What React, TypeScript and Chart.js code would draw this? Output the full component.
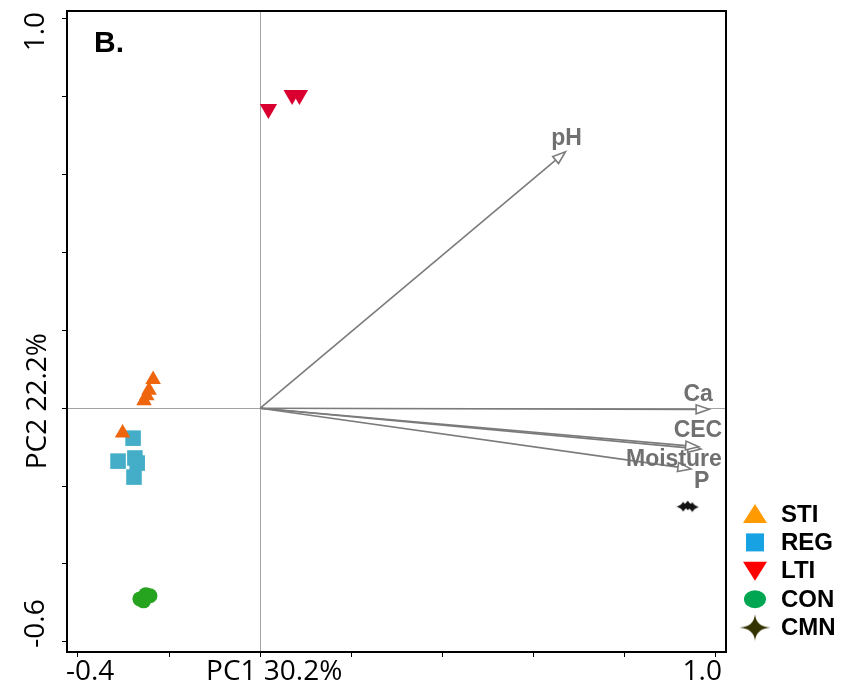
import React, { useEffect, useRef } from "react";
import { Chart, registerables } from "chart.js";
Chart.register(...registerables);

// ---- data ----
const groupNames = ["STI", "REG", "LTI", "CON", "CMN"];
const stiX = [-0.235, -0.244, -0.249, -0.255, -0.302];
const stiY = [0.074, 0.046, 0.032, 0.019, -0.064];
const regX = [-0.279, -0.312, -0.275, -0.270, -0.277];
const regY = [-0.077, -0.136, -0.128, -0.141, -0.177];
const ltiX = [0.018, 0.070, 0.086];
const ltiY = [0.769, 0.805, 0.805];
const conX = [-0.264, -0.251, -0.242, -0.256];
const conY = [-0.490, -0.479, -0.482, -0.495];
const cmnX = [0.928, 0.938, 0.948];
const cmnY = [-0.253, -0.250, -0.254];

const loadingNames = ["pH", "Ca", "CEC", "P", "Moisture"];
const loadingX = [0.670, 0.985, 0.967, 0.962, 0.945];
const loadingY = [0.659, -0.003, -0.105, -0.099, -0.156];

const xTicks = [-0.4, -0.2, 0, 0.2, 0.4, 0.6, 0.8, 1.0];
const xTickLabels = ["-0.4", "", "", "", "", "", "", "1.0"];
const yTicks = [-0.6, -0.4, -0.2, 0, 0.2, 0.4, 0.6, 0.8, 1.0];
const yTickLabels = ["-0.6", "", "", "", "", "", "", "", "1.0"];
const xTitle = "PC1 30.2%";
const yTitle = "PC2 22.2%";
const panelLabel = "B.";

// ---- styles ----
const pointColors = ["#ee650e", "#44adc7", "#d90030", "#26a31f", "#141414"];
const legendColors = ["#ff9a00", "#17a3e3", "#ff0000", "#00a651", "#333300"];
const arrowColor = "#7b7b7b";
const labelColor = "#707070";
// pixel offsets of loading labels relative to arrow tips
const labelOffsets: [number, number][] = [[1, -13], [-11, -15], [-3, -18], [3, 35], [-17, -9]];

function makeStar(w: number, h: number, color: string, k: number) {
  const c = document.createElement("canvas");
  c.width = w;
  c.height = h;
  const g = c.getContext("2d")!;
  const cx = w / 2, cy = h / 2;
  const rx = w / 2 - 0.5, ry = h / 2 - 0.5;
  g.fillStyle = color;
  g.beginPath();
  g.moveTo(cx, cy - ry);
  g.quadraticCurveTo(cx + k, cy - k, cx + rx, cy);
  g.quadraticCurveTo(cx + k, cy + k, cx, cy + ry);
  g.quadraticCurveTo(cx - k, cy + k, cx - rx, cy);
  g.quadraticCurveTo(cx - k, cy - k, cx, cy - ry);
  g.closePath();
  g.fill();
  return c;
}

function pts(xs: number[], ys: number[]) {
  return xs.map((x, i) => ({ x, y: ys[i] }));
}

export default function App() {
  const ref = useRef<HTMLCanvasElement>(null);
  useEffect(() => {
    const smallStar = makeStar(14, 11, pointColors[4], 1.6);
    const bigStar = makeStar(32, 28, legendColors[4], 1.0);

    const overlay = {
      id: "overlay",
      beforeDatasetsDraw(chart: any) {
        const ctx = chart.ctx;
        const xs = chart.scales.x, ys = chart.scales.y;
        const x0 = xs.getPixelForValue(0), y0 = ys.getPixelForValue(0);
        ctx.save();
        loadingNames.forEach((name, i) => {
          const tx = xs.getPixelForValue(loadingX[i]);
          const ty = ys.getPixelForValue(loadingY[i]);
          const ang = Math.atan2(ty - y0, tx - x0);
          const hl = 13, hw = 4.5;
          const bx = tx - hl * Math.cos(ang), by = ty - hl * Math.sin(ang);
          ctx.strokeStyle = arrowColor;
          ctx.lineWidth = 1.6;
          ctx.beginPath();
          ctx.moveTo(x0, y0);
          ctx.lineTo(bx, by);
          ctx.stroke();
          ctx.beginPath();
          ctx.moveTo(tx, ty);
          ctx.lineTo(bx - hw * Math.sin(ang), by + hw * Math.cos(ang));
          ctx.lineTo(bx + hw * Math.sin(ang), by - hw * Math.cos(ang));
          ctx.closePath();
          ctx.fillStyle = "#ffffff";
          ctx.fill();
          ctx.stroke();
        });
        ctx.font = "bold 23px 'Liberation Sans', Arial, sans-serif";
        ctx.fillStyle = labelColor;
        ctx.textAlign = "center";
        ctx.textBaseline = "middle";
        loadingNames.forEach((name, i) => {
          const tx = xs.getPixelForValue(loadingX[i]);
          const ty = ys.getPixelForValue(loadingY[i]);
          ctx.fillText(name, tx + labelOffsets[i][0], ty + labelOffsets[i][1]);
        });
        ctx.restore();
      },
      afterDraw(chart: any) {
        const ctx = chart.ctx;
        const a = chart.chartArea;
        const xs = chart.scales.x, ys = chart.scales.y;
        ctx.save();
        ctx.strokeStyle = "#000";
        ctx.lineWidth = 2;
        ctx.strokeRect(a.left, a.top, a.right - a.left, a.bottom - a.top);
        ctx.fillStyle = "#000";
        ctx.font = "bold 30px 'Liberation Sans', Arial, sans-serif";
        ctx.textAlign = "left";
        ctx.textBaseline = "middle";
        ctx.fillText(panelLabel, a.left + 27, a.top + 33);
        ctx.font = "28px 'Open Sans', sans-serif";
        ctx.textBaseline = "middle";
        const ly = 672;
        xTicks.forEach((v, i) => {
          const t = xTickLabels[i];
          if (!t) return;
          const px = xs.getPixelForValue(v);
          if (i === 0) {
            ctx.textAlign = "left";
            ctx.fillText(t, px - 12, ly);
          } else {
            ctx.textAlign = "right";
            ctx.fillText(t, px + 6, ly);
          }
        });
        ctx.textAlign = "center";
        ctx.fillText(xTitle, xs.getPixelForValue(0) + 14, ly);
        const lx = 36;
        yTicks.forEach((v, i) => {
          const t = yTickLabels[i];
          if (!t) return;
          const py = ys.getPixelForValue(v);
          ctx.save();
          ctx.translate(lx, i === 0 ? py + 6 : py - 7);
          ctx.rotate(-Math.PI / 2);
          ctx.textAlign = i === 0 ? "left" : "right";
          ctx.fillText(t, 0, 0);
          ctx.restore();
        });
        ctx.save();
        ctx.translate(lx + 2, ys.getPixelForValue(0) - 7);
        ctx.rotate(-Math.PI / 2);
        ctx.textAlign = "center";
        ctx.fillText(yTitle, 0, 0);
        ctx.restore();
        // legend
        const mx = 755, tx = 781, top = 514, step = 28.4;
        ctx.font = "bold 24px 'Liberation Sans', Arial, sans-serif";
        ctx.textAlign = "left";
        groupNames.forEach((name, i) => {
          const cy = top + step * i;
          ctx.fillStyle = legendColors[i];
          ctx.beginPath();
          if (i === 0) {
            ctx.moveTo(mx, cy - 10);
            ctx.lineTo(mx + 12, cy + 9);
            ctx.lineTo(mx - 12, cy + 9);
            ctx.closePath();
            ctx.fill();
          } else if (i === 1) {
            ctx.fillRect(mx - 9, cy - 9, 18, 18);
          } else if (i === 2) {
            ctx.moveTo(mx - 12, cy - 9);
            ctx.lineTo(mx + 12, cy - 9);
            ctx.lineTo(mx, cy + 10);
            ctx.closePath();
            ctx.fill();
          } else if (i === 3) {
            ctx.ellipse(mx, cy, 11, 9, 0, 0, Math.PI * 2);
            ctx.fill();
          } else {
            ctx.drawImage(bigStar, mx - 16, cy - 14);
          }
          ctx.fillStyle = "#000";
          ctx.fillText(name, tx, cy + 1);
        });
        ctx.restore();
      },
    };

    const chart = new Chart(ref.current!, {
      type: "scatter",
      data: {
        datasets: [
          { label: groupNames[0], data: pts(stiX, stiY), pointStyle: "triangle", pointRadius: 9, backgroundColor: pointColors[0], borderColor: pointColors[0], borderWidth: 0 },
          { label: groupNames[1], data: pts(regX, regY), pointStyle: "rect", pointRadius: 11, backgroundColor: pointColors[1], borderColor: pointColors[1], borderWidth: 0 },
          { label: groupNames[2], data: pts(ltiX, ltiY), pointStyle: "triangle", rotation: 180, pointRadius: 10, backgroundColor: pointColors[2], borderColor: pointColors[2], borderWidth: 0 },
          { label: groupNames[3], data: pts(conX, conY), pointStyle: "circle", pointRadius: 7.5, backgroundColor: pointColors[3], borderColor: pointColors[3], borderWidth: 0 },
          { label: groupNames[4], data: pts(cmnX, cmnY), pointStyle: smallStar as any, pointRadius: 6, backgroundColor: pointColors[4], borderColor: pointColors[4], borderWidth: 0 },
        ],
      } as any,
      options: {
        animation: false,
        responsive: false,
        maintainAspectRatio: false,
        layout: { padding: { left: 0, top: 9, right: 126, bottom: 0 } },
        plugins: { legend: { display: false }, tooltip: { enabled: false } },
        scales: {
          x: {
            type: "linear",
            min: -0.424,
            max: 1.022,
            afterBuildTicks: (s: any) => { s.ticks = xTicks.map((v) => ({ value: v })); },
            afterFit: (s: any) => { s.height = 38; },
            ticks: { display: false },
            border: { display: false },
            grid: {
              color: (c: any) => (c.tick && c.tick.value === 0 ? "#a3a3a3" : "rgba(0,0,0,0)"),
              tickColor: "#000",
              tickLength: 5,
              lineWidth: 1,
            },
          },
          y: {
            type: "linear",
            min: -0.6264,
            max: 1.0205,
            afterBuildTicks: (s: any) => { s.ticks = yTicks.map((v) => ({ value: v })); },
            afterFit: (s: any) => { s.width = 67; },
            ticks: { display: false },
            border: { display: false },
            grid: {
              color: (c: any) => (c.tick && c.tick.value === 0 ? "#a3a3a3" : "rgba(0,0,0,0)"),
              tickColor: "#000",
              tickLength: 5,
              lineWidth: 1,
            },
          },
        },
      } as any,
      plugins: [overlay],
    });
    return () => chart.destroy();
  }, []);

  return (
    <div style={{ position: "fixed", left: 0, top: 0, width: 852, height: 690, background: "#fff" }}>
      <canvas ref={ref} width={852} height={690} style={{ display: "block", width: 852, height: 690 }} />
    </div>
  );
}
